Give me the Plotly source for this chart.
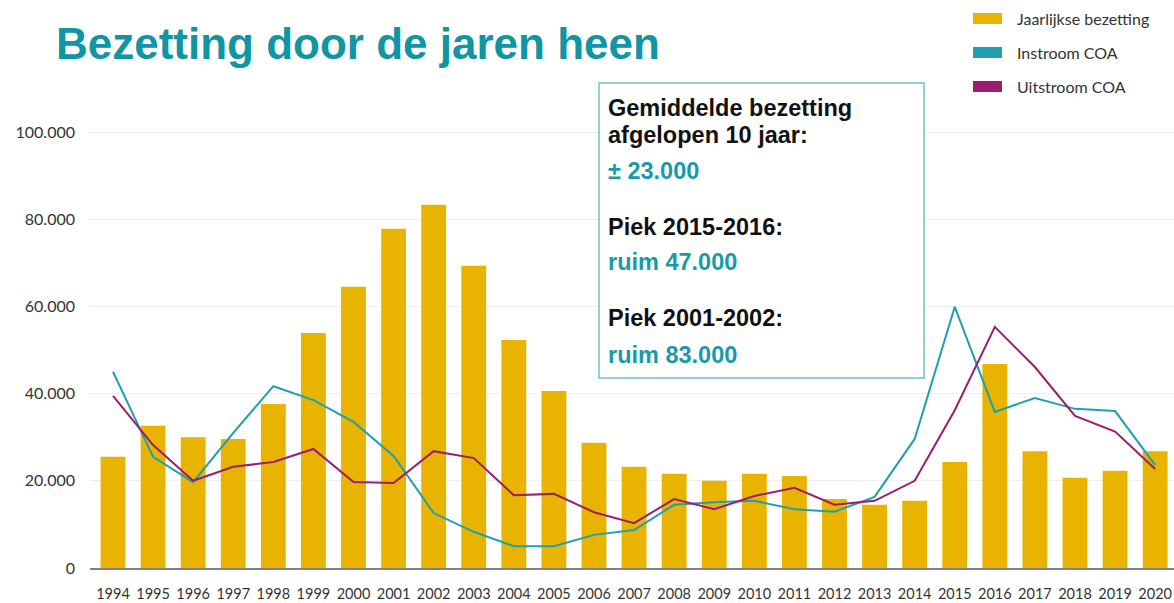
import plotly.graph_objects as go

years = [str(y) for y in range(1994, 2021)]
bezetting = [25500, 32600, 30000, 29600, 37600, 53900, 64500, 77800, 83300, 69300,
             52300, 40600, 28700, 23200, 21600, 20000, 21600, 21100, 15800, 14500,
             15400, 24300, 46800, 26800, 20700, 22300, 26800]
instroom = [45000, 25500, 19700, 31000, 41700, 38500, 33500, 25700, 12600, 8300,
            5000, 5000, 7600, 8700, 14500, 15100, 15400, 13500, 12900, 16300,
            29600, 59900, 35800, 39000, 36500, 36000, 23600]
uitstroom = [39500, 28200, 20000, 23200, 24300, 27300, 19700, 19500, 26800, 25200,
             16700, 17000, 12800, 10300, 15800, 13500, 16500, 18400, 14500, 15400,
             20000, 36200, 55300, 46100, 34900, 31300, 22700]
y_ticks = [0, 20000, 40000, 60000, 80000, 100000]

legend_labels = ["Jaarlijkse bezetting", "Instroom COA", "Uitstroom COA"]
box_lines = [
    ("Gemiddelde bezetting", "#111111"),
    ("afgelopen 10 jaar:", "#111111"),
    ("± 23.000", "#1a9aa8"),
    ("Piek 2015-2016:", "#111111"),
    ("ruim 47.000", "#1a9aa8"),
    ("Piek 2001-2002:", "#111111"),
    ("ruim 83.000", "#1a9aa8"),
]

GOLD = "#e8b400"
TEAL = "#1fa0b0"
PURPLE = "#9b1d6e"
W, H = 1174, 603

def px(x):
    return x / W

def py(y):
    return 1 - y / H

fig = go.Figure()
fig.add_trace(go.Bar(x=years, y=bezetting, marker=dict(color=GOLD, line=dict(width=0)),
                     width=0.62, name=legend_labels[0], showlegend=False))
fig.add_trace(go.Scatter(x=years, y=instroom, mode="lines", line=dict(color=TEAL, width=2),
                         name=legend_labels[1], showlegend=False))
fig.add_trace(go.Scatter(x=years, y=uitstroom, mode="lines", line=dict(color=PURPLE, width=2),
                         name=legend_labels[2], showlegend=False))

shapes = []
annotations = []

# title
annotations.append(dict(text="<b>Bezetting door de jaren heen</b>", x=px(54), y=py(43),
                         xref="paper", yref="paper", xanchor="left", yanchor="middle",
                         showarrow=False,
                         font=dict(family="Liberation Sans, Arial", size=44, color="#0f95a3")))

# legend
sw_colors = [GOLD, TEAL, PURPLE]
for i, (lab, c) in enumerate(zip(legend_labels, sw_colors)):
    cy = 18.5 + 34 * i
    shapes.append(dict(type="rect", xref="paper", yref="paper",
                       x0=px(973), x1=px(1002), y0=py(cy - 5.5), y1=py(cy + 5.5),
                       fillcolor=c, line=dict(width=0)))
    annotations.append(dict(text=lab, x=px(1015), y=py(cy), xref="paper", yref="paper",
                            xanchor="left", yanchor="middle", showarrow=False,
                            font=dict(family="Lato", size=16, color="#333333")))

# text box
shapes.append(dict(type="rect", xref="paper", yref="paper",
                   x0=px(599), x1=px(924), y0=py(378), y1=py(83),
                   fillcolor="white", line=dict(color="#72c0c8", width=1.5), layer="above"))
line_y = [108, 135, 171, 227, 262, 318, 355]
for (txt, col), yy in zip(box_lines, line_y):
    annotations.append(dict(text="<b>" + txt + "</b>", x=px(606), y=py(yy),
                            xref="paper", yref="paper", xanchor="left", yanchor="middle",
                            showarrow=False,
                            font=dict(family="Liberation Sans, Arial", size=23.5, color=col)))

ymax = (568 - 90) / 0.00436

fig.update_layout(
    width=W, height=H,
    margin=dict(l=0, r=0, t=0, b=0, autoexpand=False),
    plot_bgcolor="white", paper_bgcolor="white",
    separators=",.",
    bargap=0.38,
    showlegend=False,
    shapes=shapes,
    annotations=annotations,
    xaxis=dict(domain=[px(90), 1], type="category", range=[-0.574, 26.47],
               automargin=False,
               showline=True, linecolor="#808080", linewidth=1.5, showgrid=False,
               ticks="", ticklabelstandoff=12,
               tickfont=dict(family="Lato", size=14.5, color="#333333")),
    yaxis=dict(domain=[(H - 568) / H, 1 - 90 / H], range=[0, ymax],
               automargin=False,
               tickvals=y_ticks, tickformat=",d", showgrid=True, gridcolor="#efefef",
               gridwidth=1, zeroline=False, showline=False, ticks="",
               ticklabelstandoff=14,
               tickfont=dict(family="Lato", size=16, color="#333333")),
)

fig.write_html("out.html", config={"displayModeBar": False},
               post_script="document.body.style.margin='0';document.body.style.overflow='hidden';")
